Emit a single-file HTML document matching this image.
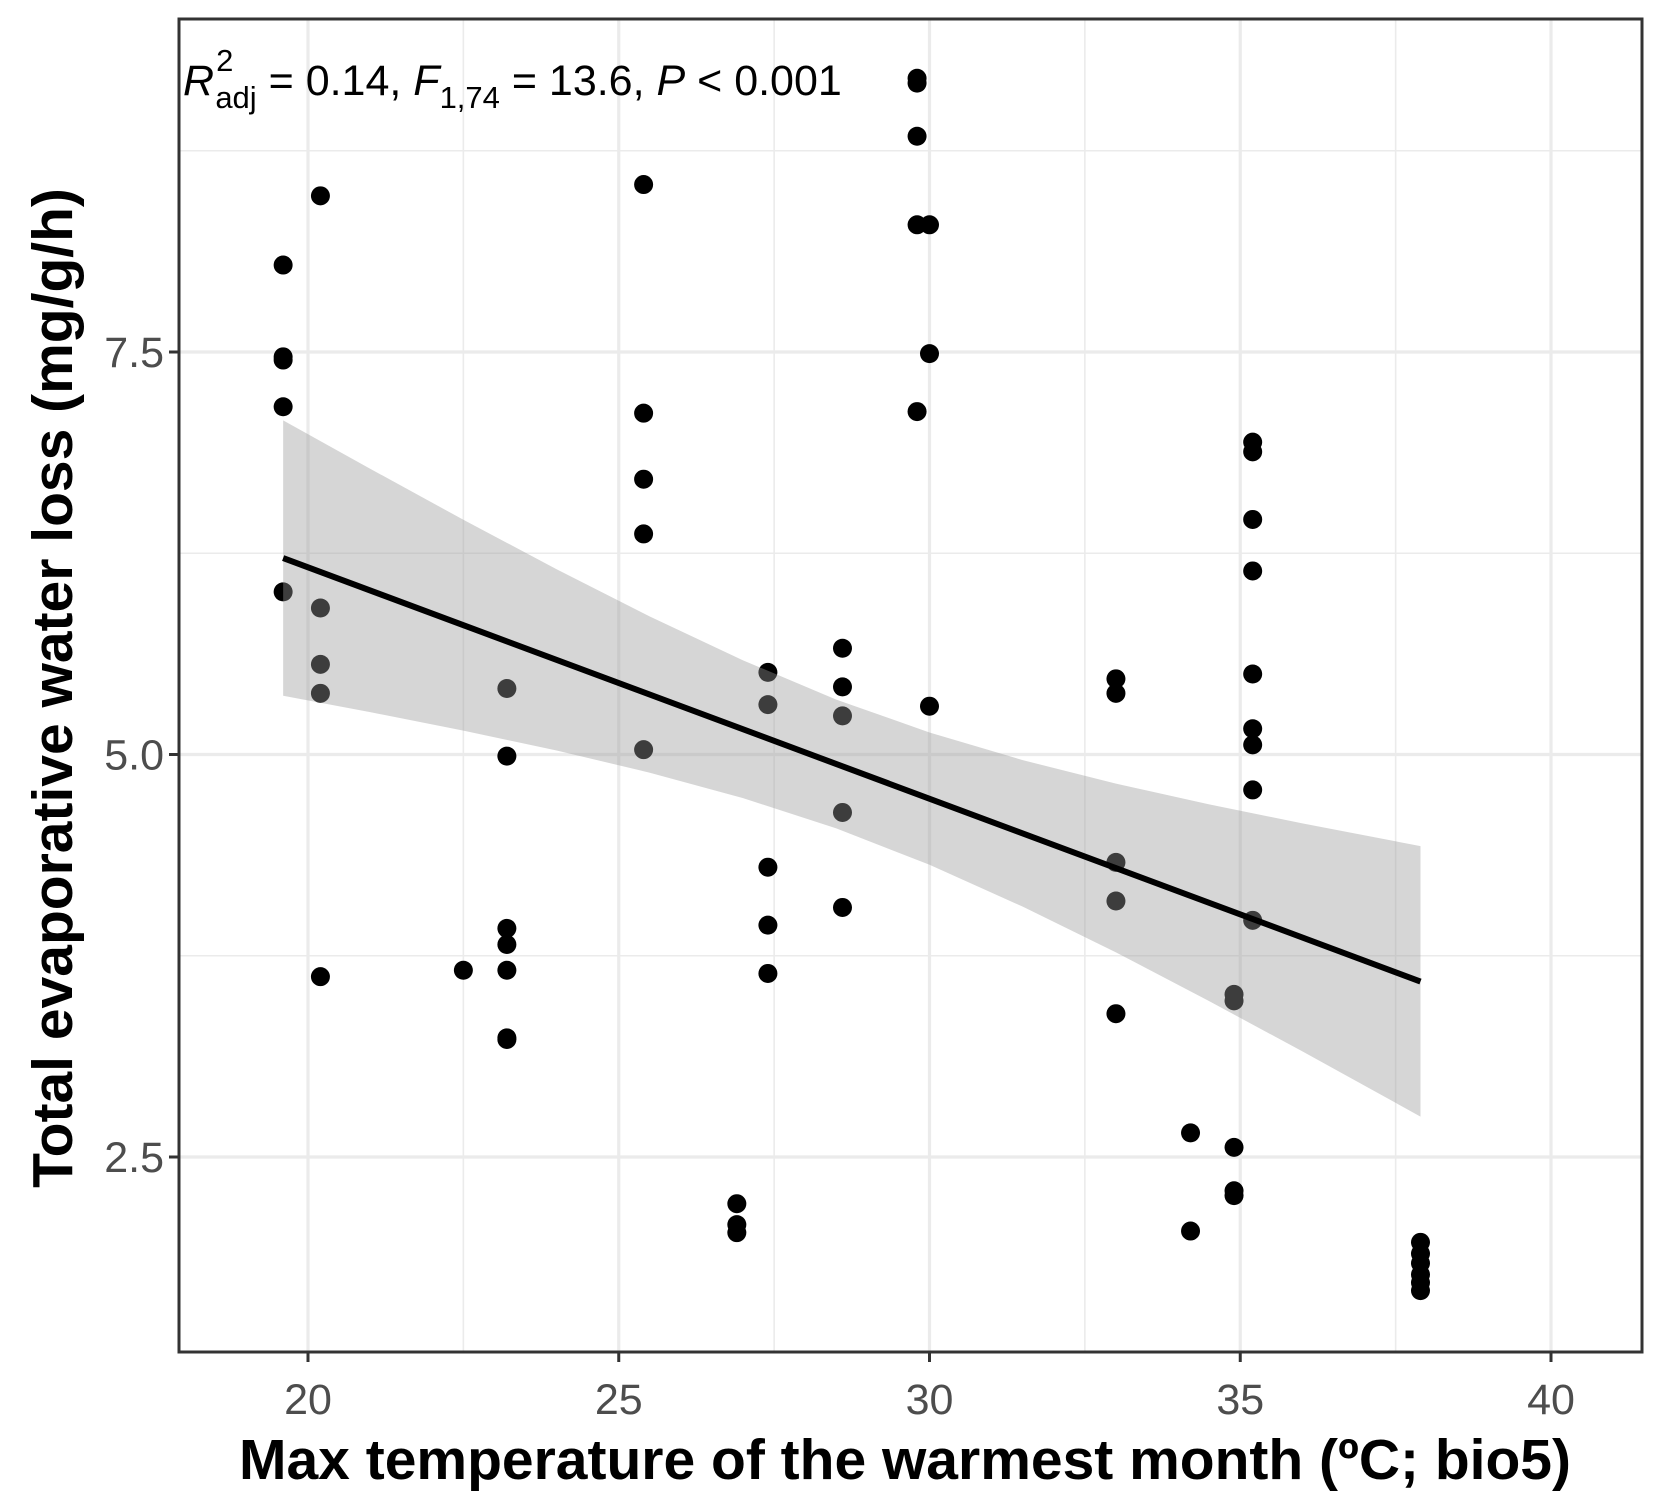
<!DOCTYPE html>
<html><head><meta charset="utf-8"><style>
html,body{margin:0;padding:0;background:#fff;}
svg{display:block;font-family:"Liberation Sans",Arial,sans-serif;}
</style></head><body>
<svg id="chart" width="1666" height="1508" viewBox="0 0 1666 1508"></svg>
<script>
const xs = [19.6,19.6,19.6,19.6,19.6, 20.2,20.2,20.2,20.2,20.2, 22.5, 23.2,23.2,23.2,23.2,23.2,23.2,23.2, 25.4,25.4,25.4,25.4,25.4, 26.9,26.9,26.9, 27.4,27.4,27.4,27.4,27.4, 28.6,28.6,28.6,28.6,28.6, 29.8,29.8,29.8,29.8,29.8, 30.0,30.0,30.0, 33.0,33.0,33.0,33.0,33.0, 34.2,34.2, 34.9,34.9,34.9,34.9,34.9, 35.2,35.2,35.2,35.2,35.2,35.2,35.2,35.2,35.2, 37.9,37.9,37.9,37.9,37.9,37.9];
const ys = [8.04,7.47,7.45,7.16,6.01, 8.47,5.91,5.56,5.38,3.62, 3.66, 5.41,4.99,3.92,3.82,3.66,3.24,3.23, 8.54,7.12,6.71,6.37,5.03, 2.21,2.08,2.03, 5.51,5.31,4.30,3.94,3.64, 5.66,5.42,5.24,4.64,4.05, 9.20,9.17,8.84,8.29,7.13, 8.29,7.49,5.30, 5.47,5.38,4.33,4.09,3.39, 2.65,2.04, 3.51,3.47,2.56,2.29,2.26, 6.94,6.88,6.46,6.14,5.50,5.16,5.06,4.78,3.97, 1.97,1.90,1.84,1.77,1.72,1.67];
const bandX = [19.6,21,22.5,24,25.5,27,28.5,30,31.5,33,34.5,36,37.9];
const bandUpper = [7.075,6.775,6.458,6.151,5.857,5.585,5.341,5.137,4.965,4.819,4.690,4.572,4.431];
const bandLower = [5.365,5.263,5.148,5.025,4.887,4.729,4.541,4.315,4.055,3.771,3.468,3.156,2.751];
const fitX = [19.6,37.9];
const fitY = [6.22,3.59];
const xTicks = [20,25,30,35,40];
const xMinor = [22.5,27.5,32.5,37.5];
const yTicks = [2.5,5.0,7.5];
const yTickLabels = ["2.5","5.0","7.5"];
const yMinor = [3.75,6.25,8.75];

const L=179,T=19,R=1642,B=1352;
const X=v=>308+(v-20)*62.15;
const Y=v=>1157-(v-2.5)*161;
const svg=document.getElementById('chart');
const NS='http://www.w3.org/2000/svg';
function mk(tag,attrs,parent){const e=document.createElementNS(NS,tag);for(const k in attrs)e.setAttribute(k,attrs[k]);(parent||svg).appendChild(e);return e;}

const grid=mk('g',{});


xMinor.forEach(v=>mk('line',{x1:X(v),x2:X(v),y1:T,y2:B,stroke:'#ebebeb','stroke-width':1.6},grid));
yMinor.forEach(v=>mk('line',{x1:L,x2:R,y1:Y(v),y2:Y(v),stroke:'#ebebeb','stroke-width':1.6},grid));
xTicks.forEach(v=>mk('line',{x1:X(v),x2:X(v),y1:T,y2:B,stroke:'#ebebeb','stroke-width':3.2},grid));
yTicks.forEach(v=>mk('line',{x1:L,x2:R,y1:Y(v),y2:Y(v),stroke:'#ebebeb','stroke-width':3.2},grid));

const pts=mk('g',{});


xs.forEach((x,i)=>{
  const c=mk('circle',{cx:X(x),cy:Y(ys[i]),r:9.5,fill:'#000'},pts);
  
  
});

let d='';
bandX.forEach((x,i)=>{d+=(i?'L':'M')+X(x)+','+Y(bandUpper[i]);});
for(let i=bandX.length-1;i>=0;i--){d+='L'+X(bandX[i])+','+Y(bandLower[i]);}
d+='Z';
const band=mk('path',{d:d,fill:'#999','fill-opacity':0.4});



const fit=mk('line',{x1:X(fitX[0]),y1:Y(fitY[0]),x2:X(fitX[1]),y2:Y(fitY[1]),stroke:'#000','stroke-width':6});



const frame=mk('rect',{x:L,y:T,width:R-L,height:B-T,fill:'none',stroke:'#333','stroke-width':3});



xTicks.forEach(v=>{
  mk('line',{x1:X(v),x2:X(v),y1:B,y2:B+10,stroke:'#333','stroke-width':3});
  const t=mk('text',{x:X(v),y:1414,'text-anchor':'middle','font-size':43,fill:'#4d4d4d'});
  t.textContent=String(v);
  
  
});
yTicks.forEach((v,i)=>{
  mk('line',{x1:L-10,x2:L,y1:Y(v),y2:Y(v),stroke:'#333','stroke-width':3});
  const t=mk('text',{x:L-15,y:Y(v)+15,'text-anchor':'end','font-size':43,fill:'#4d4d4d'});
  t.textContent=yTickLabels[i];
  
  
});
</script>
<svg style="position:absolute;left:0;top:0" width="1666" height="1508">
<text x="905" y="1479" text-anchor="middle" font-size="57" font-weight="bold" fill="#000" font-family="Liberation Sans, Arial, sans-serif">Max temperature of the warmest month (ºC; bio5)</text>
<text transform="translate(72,688) rotate(-90)" text-anchor="middle" font-size="57" font-weight="bold" fill="#000" font-family="Liberation Sans, Arial, sans-serif">Total evaporative water loss (mg/g/h)</text>
<text x="183" y="95" font-size="43" fill="#000" font-family="Liberation Sans, Arial, sans-serif"><tspan font-style="italic">R</tspan><tspan font-size="31" dy="-24" dx="2">2</tspan><tspan font-size="31" dy="37" dx="-18">adj</tspan><tspan dy="-13"> = 0.14, </tspan><tspan font-style="italic">F</tspan><tspan font-size="31" dy="13">1,74</tspan><tspan dy="-13"> = 13.6, </tspan><tspan font-style="italic">P</tspan><tspan> &lt; 0.001</tspan></text>
</svg>
</body></html>
